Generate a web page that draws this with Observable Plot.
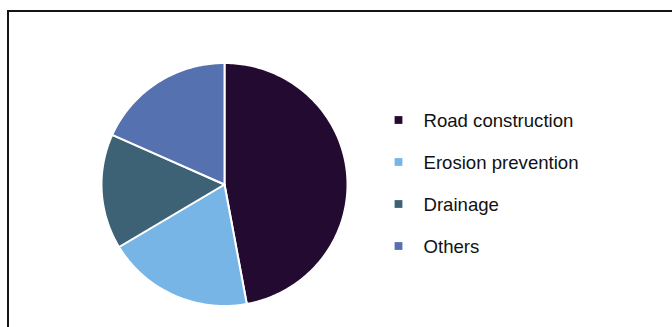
<!DOCTYPE html>
<html>
<head>
<meta charset="utf-8">
<script src="https://cdn.jsdelivr.net/npm/d3@7"></script>
<script src="https://cdn.jsdelivr.net/npm/@observablehq/plot@0.6"></script>
<style>
  html, body { margin: 0; padding: 0; background: #fff; }
  #wrap { position: relative; width: 672px; height: 327px; overflow: hidden; font-family: "Liberation Sans", Arial, sans-serif; }
  #frame { position: absolute; left: 7px; top: 10px; width: 700px; height: 400px; border-left: 2px solid #141414; border-top: 2px solid #141414; box-sizing: border-box; }
  #wrap svg { position: absolute; left: 0; top: 0; }
</style>
</head>
<body>
<div id="wrap"><div id="frame"></div></div>
<script>
// Data
const categories = ["Road construction", "Erosion prevention", "Drainage", "Others"];
const shares = [47.1, 19.3, 15.3, 18.3];
const colors = ["#220a31", "#78b5e7", "#3d6276", "#5571b0"];

const colorScale = { domain: categories, range: colors };

// Build slice outlines from the pie layout
const arcs = d3.pie().sort(null).value((d) => d)(shares);
const pts = [];
arcs.forEach((a, i) => {
  const key = categories[i];
  pts.push({ key, x: 0, y: 0 });
  const n = Math.max(2, Math.ceil((a.endAngle - a.startAngle) / (Math.PI / 180)));
  for (let k = 0; k <= n; k++) {
    const t = a.startAngle + (a.endAngle - a.startAngle) * (k / n);
    pts.push({ key, x: Math.sin(t), y: Math.cos(t) });
  }
});

const pie = Plot.plot({
  width: 672,
  height: 327,
  margin: 0,
  x: { domain: [-1, 1], range: [101, 347], axis: null },
  y: { domain: [-1, 1], range: [305.5, 62.5], axis: null },
  color: colorScale,
  marks: [
    Plot.line(pts, {
      x: "x",
      y: "y",
      z: "key",
      fill: "key",
      stroke: "#ffffff",
      strokeWidth: 2,
      strokeLinejoin: "round",
      curve: "linear-closed"
    })
  ]
});

const legend = Plot.plot({
  width: 672,
  height: 327,
  marginLeft: 398,
  marginTop: 0,
  marginBottom: 0,
  marginRight: 0,
  y: { type: "point", domain: categories, range: [120, 248.5], padding: 0, axis: null },
  color: colorScale,
  style: { fontFamily: "'Liberation Sans', Arial, sans-serif", background: "transparent" },
  marks: [
    Plot.dot(categories, { y: (d) => d, fill: (d) => d, symbol: "square", r: 4.4, frameAnchor: "left", dy: -1.5 }),
    Plot.text(categories, { y: (d) => d, text: (d) => d, frameAnchor: "left", dx: 25, textAnchor: "start", fontSize: 18.6, fill: "#111" })
  ]
});

const wrap = document.getElementById("wrap");
wrap.appendChild(pie);
wrap.appendChild(legend);
</script>
</body>
</html>
